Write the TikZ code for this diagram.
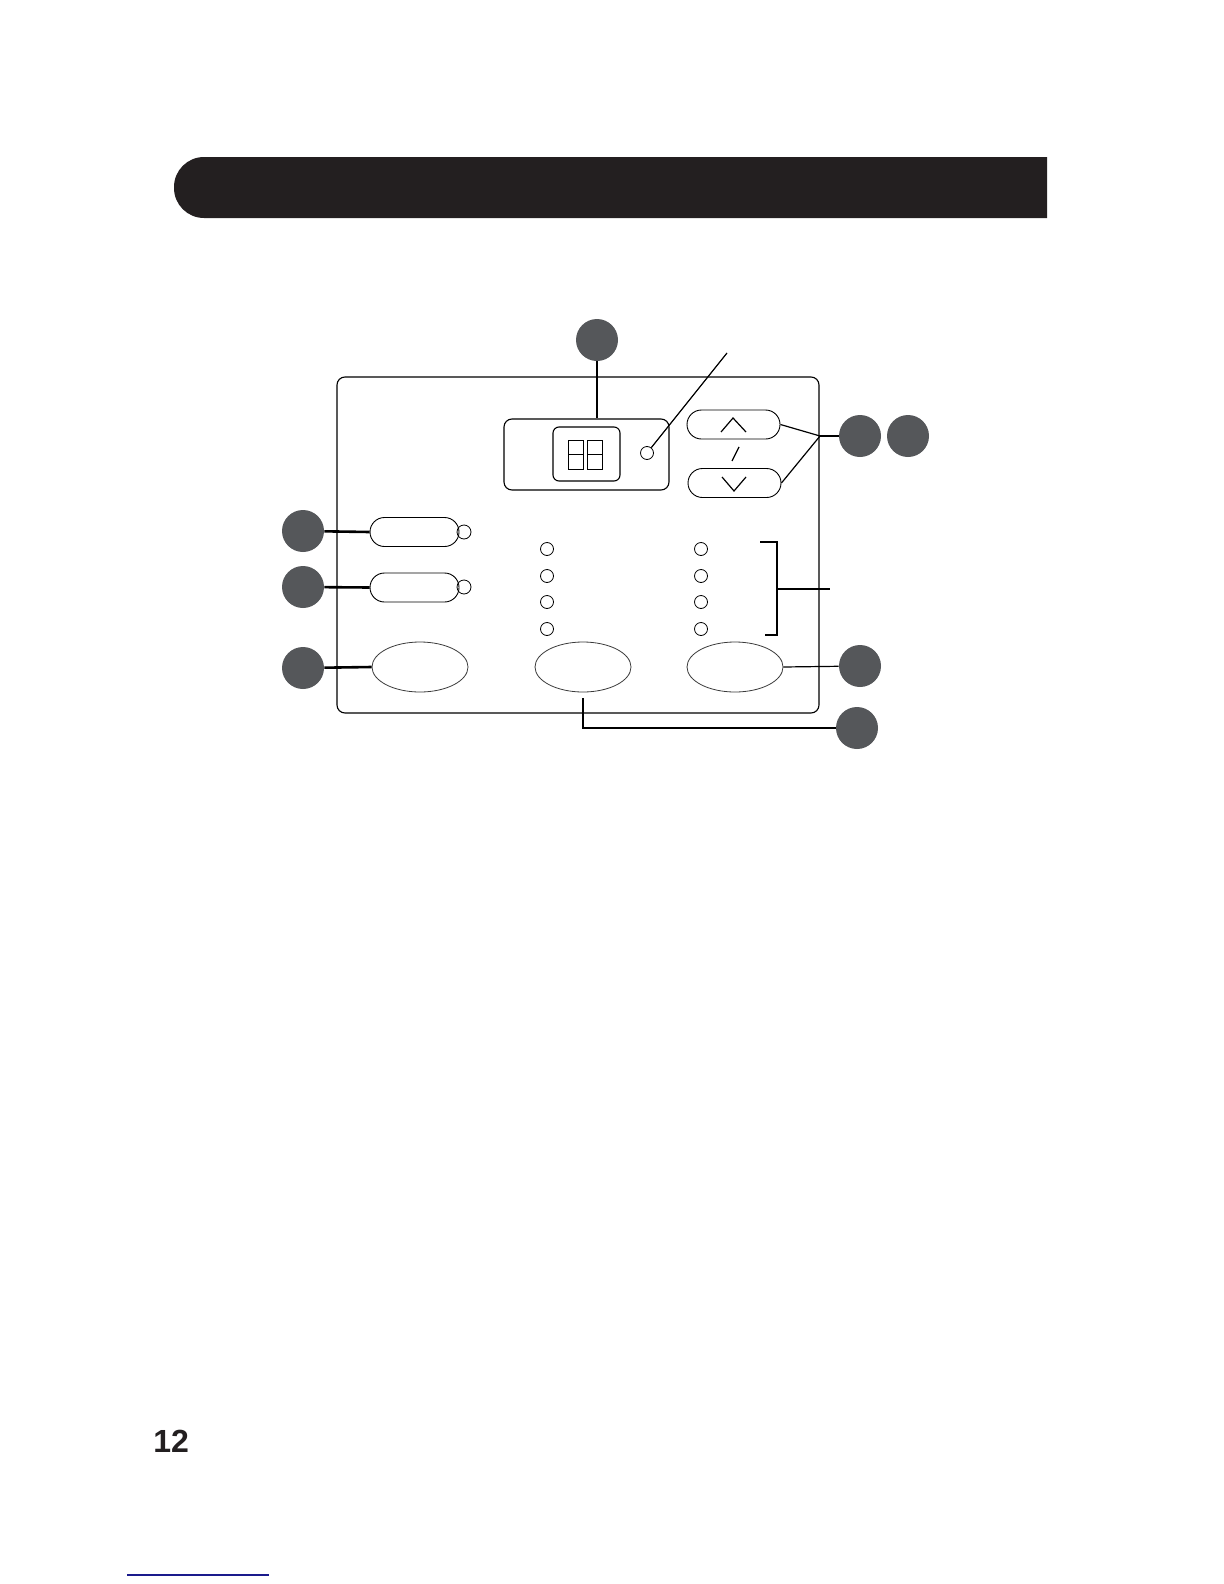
\documentclass[tikz,border=0pt]{standalone}
\usepackage{fontspec}
\setmainfont{Liberation Sans}
\usepackage{tikz}
\usetikzlibrary{shapes.geometric,shapes.misc}
\definecolor{barblack}{HTML}{231F20}
\definecolor{dotgray}{HTML}{55575A}
\definecolor{keyline}{HTML}{3A3A3A}
\definecolor{linkblue}{HTML}{1A1A8C}
\tikzset{
  numdot/.style={circle,fill=dotgray,minimum size=21pt,inner sep=0pt},
  led/.style={circle,draw=black,minimum size=6.5pt,inner sep=0pt,line width=0.4pt},
  pillkey/.style={rounded rectangle,draw=black,minimum width=44.5pt,
    minimum height=14.5pt,inner sep=0pt,line width=0.45pt},
  bigkey/.style={ellipse,draw=keyline,minimum width=48pt,minimum height=25pt,
    inner sep=0pt,line width=0.4pt},
  panelbox/.style={rectangle,draw=black,rounded corners=4pt,line width=0.55pt,inner sep=0pt},
  thicklead/.style={line width=1.3pt,color=black},
  thinlead/.style={line width=0.6pt,color=black},
}
\begin{document}
\begin{tikzpicture}[x=0.5pt,y=-0.5pt]
  \useasboundingbox (0,0) rectangle (1224,1584);
  % header bar
  \fill[barblack] (1047,157) [rounded corners=15pt] -- (174,157) -- (174,218)
    [sharp corners] -- (1047,218) -- cycle;
  % control panel
  \node[panelbox,minimum width=241pt,minimum height=168pt] (panel) at (578,545) {};
  \node[panelbox,rounded corners=4pt,minimum width=82.5pt,minimum height=35.5pt] (disp) at (586.5,454.5) {};
  \node[panelbox,rounded corners=3pt,minimum width=33.5pt,minimum height=27pt] (win) at (586.5,454) {};
  \foreach \x in {568,587} {
    \draw[line width=0.5pt] (\x,440) rectangle (\x+15.5,469);
    \draw[line width=0.5pt] (\x,454.5) -- (\x+15.5,454.5);
  }
  \node[led,minimum size=6.5pt] (dled) at (647,453) {};
  % up / down keys
  \node[pillkey,minimum width=46.5pt] (up) at (733.5,424.5) {};
  \node[pillkey,minimum width=46.5pt] (down) at (734.5,483) {};
  \draw[line width=0.6pt] (721,432) -- (733,418) -- (746,432);
  \draw[line width=0.6pt] (722,477) -- (734,491) -- (746,477);
  \draw[line width=0.6pt] (732,461) -- (739,447);
  % left keys
  \node[pillkey] (b1) at (414.5,532) {};
  \node[pillkey] (b2) at (414.5,587.5) {};
  \node[led,minimum size=7pt] (l1) at (464,532) {};
  \node[led,minimum size=7pt] (l2) at (464,587) {};
  \node[bigkey] (k1) at (420,667) {};
  \node[bigkey] (k2) at (583,667) {};
  \node[bigkey] (k3) at (735,667) {};
  % indicator lamps
  \foreach \y/\i in {549/1,576/2,602/3,629/4} {
    \node[led] (la\i) at (547,\y) {};
    \node[led] (lb\i) at (701,\y) {};
  }
  \draw[thinlead] (760,542) -- (777,542) -- (777,635) -- (765,635);
  \coordinate (brk) at (777,589);
  \coordinate (brktip) at (830,589);
  \draw[thinlead] (brk) -- (brktip);
  % callouts
  \node[numdot] (n1) at (597,340) {};
  \node[numdot] (n2) at (860,436) {};
  \node[numdot] (n3) at (908,436) {};
  \node[numdot] (n4) at (303,531) {};
  \node[numdot] (n5) at (303,587) {};
  \node[numdot] (n6) at (303,668) {};
  \node[numdot] (n7) at (860,666) {};
  \node[numdot] (n8) at (857,728) {};
  \coordinate (dtip) at (727,353);
  \coordinate (ud) at (820,436);
  \draw[thicklead] (n1) -- (n1 |- disp.north);
  \draw[thinlead] (dled) -- (dtip);
  \draw[thinlead] (up.east) -- (ud);
  \draw[thinlead] (down.east) -- (ud);
  \draw[thinlead] (ud) -- (n2);
  \draw[thicklead] (n4) -- (b1.west);
  \draw[thicklead] (n5) -- (b2.west);
  \draw[thicklead] (n6) -- (k1.west);
  \draw[thinlead] (k3.east) -- (n7);
  \draw[thicklead] ([yshift=-3pt]k2.south) |- (n8);
  % page number
  \node[anchor=base west,inner sep=0pt,font=\fontsize{16}{19}\selectfont\bfseries,text=barblack] (pnum) at (153,1452) {12};
  \coordinate (lnka) at (127,1575);
  \coordinate (lnkb) at (269,1575);
  \draw[linkblue,line width=0.7pt] (lnka) -- (lnkb);
\end{tikzpicture}
\end{document}
